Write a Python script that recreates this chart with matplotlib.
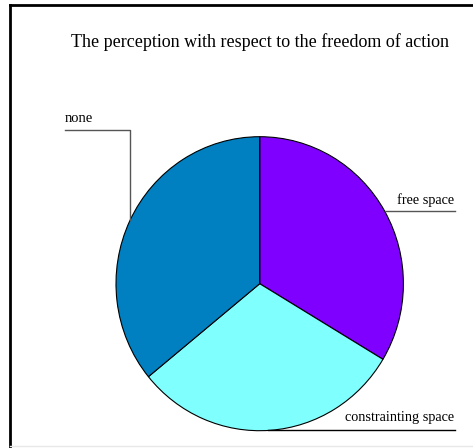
import matplotlib
matplotlib.use('Agg')
import matplotlib.pyplot as plt

labels = ['free space', 'constrainting space', 'none']
shares = [33.6, 30.5, 35.9]
colors = ['#8000ff', '#80ffff', '#0080c0']

W, H = 473, 448
fig = plt.figure(figsize=(W / 100, H / 100), dpi=100)
plt.rcParams['font.family'] = 'Liberation Serif'

# pie axes, pixel box around the circle
cx, cy, rx, ry = 259.7, 283.7, 143.7, 147.0
ax = fig.add_axes([(cx - rx) / W, (H - cy - ry) / H, 2 * rx / W, 2 * ry / H])
ax.pie(shares, colors=colors, startangle=90, counterclock=False, radius=1,
       wedgeprops=dict(edgecolor='black', linewidth=0.8))
ax.set_aspect('auto')
ax.set_xlim(-1, 1)
ax.set_ylim(-1, 1)
ax.axis('off')

# overlay in pixel coordinates for frame, title and labels
ov = fig.add_axes([0, 0, 1, 1], zorder=3)
ov.set_xlim(0, W)
ov.set_ylim(H, 0)
ov.axis('off')
ov.patch.set_alpha(0)

ov.plot([9.5, W], [5, 5], color='black', lw=2)
ov.plot([10, 10], [5, H], color='black', lw=2)
ov.plot([10, W], [446.5, 446.5], color='#e8e8e8', lw=1)

ov.text(260, 42, 'The perception with respect to the freedom of action',
        ha='center', va='center', fontsize=13)

ov.text(65, 118, 'none', ha='left', va='center', fontsize=10.5)
ov.plot([65, 130, 130], [130.5, 130.5, 220], color='#555555', lw=1)

ov.text(454, 200, 'free space', ha='right', va='center', fontsize=10.3)
ov.plot([384.5, 455], [211, 211], color='#555555', lw=1)

ov.text(454, 417, 'constrainting space', ha='right', va='center', fontsize=10.3)
ov.plot([268, 455], [430.5, 430.5], color='black', lw=1)

fig.savefig('out.png', dpi=100)
